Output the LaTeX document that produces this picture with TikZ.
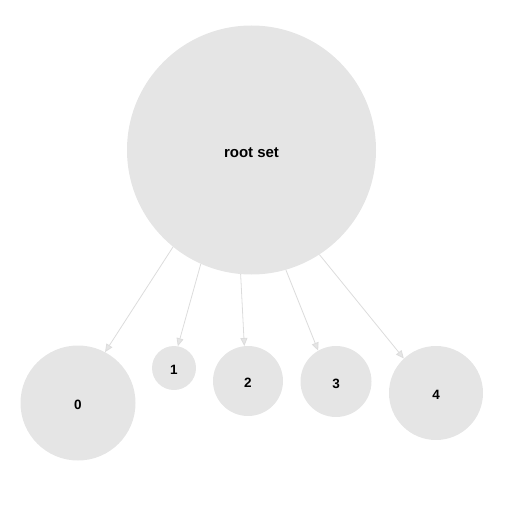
\documentclass[tikz,border=0pt]{standalone}
\usepackage{fontspec}
\setmainfont{Liberation Sans}
\usetikzlibrary{arrows.meta}
\definecolor{nodefill}{HTML}{E5E5E5}
\definecolor{edgecol}{HTML}{DCDCDC}
\tikzset{
  x=1pt, y=-1pt,
  blob/.style={circle, fill=nodefill, draw=none, inner sep=0pt, text height=13pt, text depth=0pt, font=\bfseries\fontsize{13.5}{16}\selectfont},
  link/.style={draw=edgecol, line width=0.8pt, -{Triangle[length=8pt,width=7pt,open,fill=nodefill]}}
}
\begin{document}
\begin{tikzpicture}
\useasboundingbox (0,0) rectangle (522,511);
\node[blob, minimum size=249pt, text height=14pt, font=\bfseries\fontsize{15}{18}\selectfont] (root) at (251.5,150) {root set};
\node[blob, minimum size=115pt] (n0) at (78,403) {0};
\node[blob, minimum size=44pt] (n1) at (174,368) {1};
\node[blob, minimum size=70pt] (n2) at (248,381) {2};
\node[blob, minimum size=71pt] (n3) at (336,381.5) {3};
\node[blob, minimum size=94pt] (n4) at (436,393) {4};
\draw[link] (root.231) -- (n0.62);
\draw[link] (root.246) -- (n1.80);
\draw[link] (root.265) -- (n2.96);
\draw[link] (root.286) -- (n3.120);
\draw[link] (root.303) -- (n4.133);
\end{tikzpicture}
\end{document}
